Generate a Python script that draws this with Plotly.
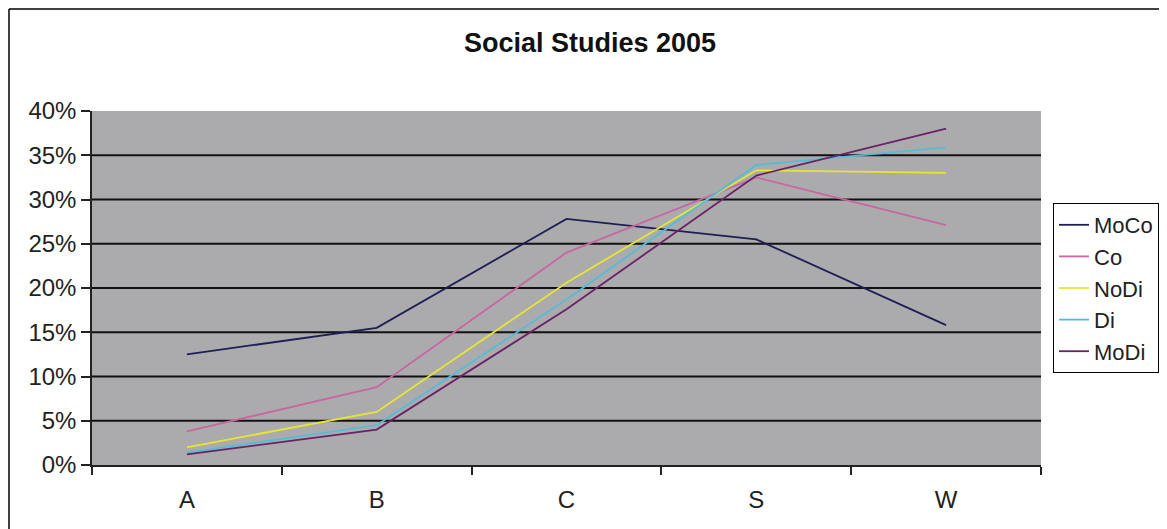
import plotly.graph_objects as go

categories = ["A", "B", "C", "S", "W"]
series_names = ["MoCo", "Co", "NoDi", "Di", "MoDi"]
moco = [12.5, 15.5, 27.8, 25.5, 15.8]
co = [3.8, 8.8, 24.0, 32.5, 27.1]
nodi = [2.0, 6.0, 20.6, 33.3, 33.0]
di = [1.4, 4.5, 18.7, 33.9, 35.9]
modi = [1.2, 4.0, 17.6, 32.7, 38.0]
y_ticks = [0, 5, 10, 15, 20, 25, 30, 35, 40]
y_tick_labels = ["0%", "5%", "10%", "15%", "20%", "25%", "30%", "35%", "40%"]

series_values = [moco, co, nodi, di, modi]
colors = ["#1e1e55", "#c866a0", "#e6e632", "#54bcd6", "#6a2264"]

# the page body adds an 8px offset; figure coords = screen coords - 8
W, H = 1159, 521
L, R, T, B = 84, 1159 - 1033, 103, 521 - 457
pw, ph = W - L - R, H - T - B

fig = go.Figure()
for name, vals, col in zip(series_names, series_values, colors):
    fig.add_trace(go.Scatter(
        x=categories, y=vals, name=name, mode="lines",
        line=dict(color=col, width=1.8), legendgroup=name,
    ))

shapes = []
for v in y_ticks[1:-1]:
    shapes.append(dict(type="line", xref="paper", yref="y", x0=0, x1=1, y0=v, y1=v,
                       line=dict(color="#111111", width=2), layer="below"))
# outer border (left and top edges)
bx0 = (1 - L) / pw
by1 = (457 - 1) / ph
shapes.append(dict(type="line", xref="paper", yref="paper", x0=bx0, x1=bx0, y0=-0.25, y1=by1,
                   line=dict(color="black", width=1.5)))
shapes.append(dict(type="line", xref="paper", yref="paper", x0=bx0, x1=1.2, y0=by1, y1=by1,
                   line=dict(color="black", width=1.5)))

font_family = "Liberation Sans, Arial, sans-serif"
fig.update_layout(
    width=W, height=H,
    margin=dict(l=L, r=R, t=T, b=B, autoexpand=False),
    paper_bgcolor="white",
    plot_bgcolor="#ababae",
    title=dict(text="<b>Social Studies 2005</b>", x=582 / W, xanchor="center",
               y=1 - 35 / H, yanchor="middle",
               font=dict(family=font_family, size=27, color="#111111")),
    xaxis=dict(
        type="category", range=[-0.5, 4.5], showgrid=False, showline=True,
        linecolor="#222222", linewidth=1.5, ticks="outside", tickson="boundaries",
        ticklen=8, tickcolor="#222222", tickwidth=1.5, ticklabelstandoff=12,
        tickfont=dict(family=font_family, size=24, color="#222222"),
        zeroline=False, fixedrange=True,
    ),
    yaxis=dict(
        range=[0, 40], tickvals=y_ticks, ticktext=y_tick_labels, showgrid=False,
        showline=True, linecolor="#222222", linewidth=1.5, ticks="outside",
        ticklen=9, tickcolor="#222222", tickwidth=1.5,
        tickfont=dict(family=font_family, size=24, color="#222222"),
        zeroline=False, fixedrange=True,
    ),
    legend=dict(
        x=(1045 - L) / pw, xanchor="left", y=(457 - 195) / ph, yanchor="top",
        bgcolor="white", bordercolor="black", borderwidth=1,
        font=dict(family=font_family, size=22, color="#222222"),
        tracegroupgap=0, itemwidth=30,
    ),
    shapes=shapes,
    showlegend=True,
)

fig.write_html("out.html")
